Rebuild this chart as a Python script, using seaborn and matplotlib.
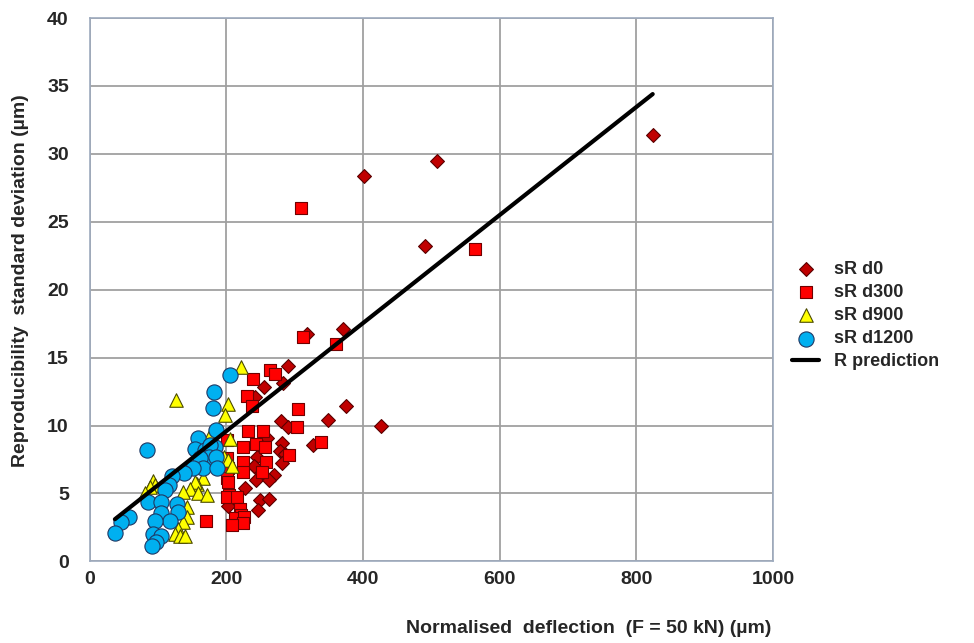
import seaborn as sns
import matplotlib.pyplot as plt
from matplotlib.ticker import MultipleLocator

# sR d0 (diamonds)
d0_x = [824, 508, 401, 491, 371, 318, 290, 283, 255, 242, 375, 349, 427, 280, 291,
        260, 281, 327, 278, 286, 281, 245, 270, 244, 240, 244, 262, 228, 249, 263,
        203, 246]
d0_y = [31.4, 29.5, 28.4, 23.2, 17.1, 16.7, 14.4, 13.1, 12.8, 12.1, 11.4, 10.4, 9.95, 10.3, 9.9,
        9.1, 8.7, 8.6, 8.1, 7.9, 7.25, 7.7, 6.35, 6.9, 7.0, 6.0, 6.0, 5.4, 4.5, 4.6,
        4.05, 3.8]

# sR d300 (squares)
d300_x = [309, 564, 312, 361, 264, 271, 239, 231, 238, 305, 303, 232, 254, 339, 292,
          225, 244, 257, 201, 201, 225, 258, 203, 225, 252, 201, 203, 204, 201, 215,
          220, 222, 171, 213, 226, 225, 208]
d300_y = [26.0, 23.0, 16.5, 16.0, 14.1, 13.8, 13.4, 12.15, 11.4, 11.2, 9.9, 9.6, 9.6, 8.75, 7.8,
          8.45, 8.65, 8.4, 8.9, 7.6, 7.3, 7.3, 6.9, 6.6, 6.6, 6.1, 5.85, 4.9, 4.75, 4.7,
          3.85, 3.4, 3.0, 3.2, 3.3, 2.85, 2.65]

# sR d900 (triangles)
d900_x = [222, 127, 202, 198, 205, 176, 196, 203, 208, 166, 157, 154, 93, 96, 89,
          81, 147, 136, 159, 172, 142, 142, 137, 130, 125, 132, 139]
d900_y = [14.3, 11.9, 11.6, 10.8, 9.0, 9.3, 7.7, 7.45, 7.0, 6.1, 5.7, 5.85, 5.9, 5.6, 5.5,
          5.0, 5.35, 5.1, 5.0, 4.9, 4.0, 3.3, 2.9, 2.4, 2.0, 1.9, 1.9]

# sR d1200 (circles)
d1200_x = [205, 182, 180, 185, 159, 84, 154, 169, 183, 176, 174, 162, 185, 166, 152,
           187, 138, 121, 116, 111, 86, 104, 128, 129, 105, 118, 96, 57, 46, 37,
           93, 105, 97, 91]
d1200_y = [13.7, 12.45, 11.3, 9.65, 9.1, 8.2, 8.3, 8.2, 8.4, 8.6, 7.7, 7.6, 7.65, 6.85, 6.85,
           6.85, 6.5, 6.3, 5.6, 5.25, 4.4, 4.4, 4.25, 3.6, 3.55, 2.95, 3.0, 3.25, 2.9, 2.1,
           2.0, 1.9, 1.45, 1.1]

# R prediction line
pred_x = [37, 824]
pred_y = [3.1, 34.4]

sns.set_style('white')
plt.rcParams['font.family'] = ['Liberation Sans', 'DejaVu Sans']
plt.rcParams['font.weight'] = 'bold'

fig = plt.figure(figsize=(9.74, 6.43), dpi=100)
ax = fig.add_axes([0.092, 0.127, 0.7016, 0.845])

sns.scatterplot(x=d0_x, y=d0_y, marker='D', s=50, color='#C00000', edgecolor='#5A0000',
                linewidth=0.8, label='sR d0', ax=ax, zorder=3)
sns.scatterplot(x=d300_x, y=d300_y, marker='s', s=80, color='#FF0000', edgecolor='#700000',
                linewidth=0.8, label='sR d300', ax=ax, zorder=4)
sns.scatterplot(x=d900_x, y=d900_y, marker='^', s=95, color='#FFFF00', edgecolor='#4A4A00',
                linewidth=0.8, label='sR d900', ax=ax, zorder=5)
sns.scatterplot(x=d1200_x, y=d1200_y, marker='o', s=120, color='#00B0F0', edgecolor='#1F3864',
                linewidth=0.8, label='sR d1200', ax=ax, zorder=6)
sns.lineplot(x=pred_x, y=pred_y, color='black', linewidth=3, label='R prediction', ax=ax, zorder=7)

ax.set_xlim(0, 1000)
ax.set_ylim(0, 40)
ax.xaxis.set_major_locator(MultipleLocator(200))
ax.yaxis.set_major_locator(MultipleLocator(5))
ax.xaxis.set_minor_locator(MultipleLocator(40))
ax.yaxis.set_minor_locator(MultipleLocator(1))
ax.grid(True, which='major', color='#A0A0A0', linewidth=1.3)
ax.set_axisbelow(True)
for sp in ax.spines.values():
    sp.set_color('#9DAABD')
    sp.set_linewidth(1.2)
ax.tick_params(which='major', direction='inout', length=8, color='#8C8C8C', labelsize=14)
ax.tick_params(axis='y', which='major', pad=11)
ax.tick_params(axis='x', which='major', pad=3)
ax.tick_params(which='minor', direction='in', length=4, color='#8C8C8C')
ax.tick_params(axis='x', which='minor', direction='out')
for lab in ax.get_xticklabels() + ax.get_yticklabels():
    lab.set_fontweight('bold')
ax.set_xlabel('')
ax.set_ylabel('')

fig.text(0.021, 0.563, 'Reproducibility  standard deviation (µm)', rotation=90,
         ha='center', va='center', fontsize=14, fontweight='bold')
fig.text(0.7916, 0.0233, 'Normalised  deflection  (F = 50 kN) (µm)', ha='right',
         va='center', fontsize=14, fontweight='bold')

ax.legend(loc='center left', bbox_to_anchor=(0.806, 0.509), bbox_transform=fig.transFigure,
          frameon=False, borderaxespad=0, handlelength=1.5, labelspacing=0.34,
          prop={'weight': 'bold', 'size': 13})

fig.savefig('out.png', dpi=100)
